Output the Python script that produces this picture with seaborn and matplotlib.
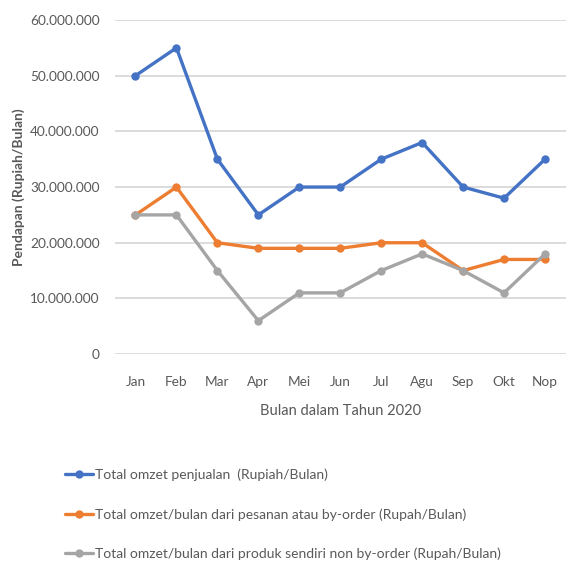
import matplotlib
matplotlib.use("Agg")
import matplotlib.pyplot as plt
import seaborn as sns
import pandas as pd
from matplotlib.ticker import FuncFormatter, MultipleLocator

months = ["Jan", "Feb", "Mar", "Apr", "Mei", "Jun", "Jul", "Agu", "Sep", "Okt", "Nop"]
total_omzet = [50e6, 55e6, 35e6, 25e6, 30e6, 30e6, 35e6, 38e6, 30e6, 28e6, 35e6]
by_order = [25e6, 30e6, 20e6, 19e6, 19e6, 19e6, 20e6, 20e6, 15e6, 17e6, 17e6]
non_by_order = [25e6, 25e6, 15e6, 6e6, 11e6, 11e6, 15e6, 18e6, 15e6, 11e6, 18e6]
series_names = [
    "Total omzet penjualan  (Rupiah/Bulan)",
    "Total omzet/bulan dari pesanan atau by-order (Rupah/Bulan)",
    "Total omzet/bulan dari produk sendiri non by-order (Rupah/Bulan)",
]
colors = ["#4472C4", "#ED7D31", "#A5A5A5"]

sns.set_theme(style="white")
plt.rcParams["font.family"] = ["Lato", "DejaVu Sans"]

df = pd.DataFrame({
    "Bulan": months * 3,
    "Nilai": total_omzet + by_order + non_by_order,
    "Seri": sum([[n] * len(months) for n in series_names], []),
})

fig = plt.figure(figsize=(5.68, 5.63), dpi=100)
ax = fig.add_axes([0.2025, 0.371, 0.7931, 0.5935])

sns.lineplot(data=df, x="Bulan", y="Nilai", hue="Seri", palette=colors,
             marker="o", markersize=6, markeredgewidth=0, linewidth=2.4,
             sort=False, ax=ax, legend=False)

ax.set_ylim(0, 60e6)
ax.set_xlim(-0.5, 10.5)
ax.yaxis.set_major_locator(MultipleLocator(10e6))
ax.yaxis.set_major_formatter(FuncFormatter(lambda v, p: "0" if v == 0 else f"{int(v):,}".replace(",", ".")))
ax.grid(axis="y", color="#D9D9D9", linewidth=1.3)
ax.set_axisbelow(True)
for s in ax.spines.values():
    s.set_visible(False)
ax.tick_params(axis="both", length=0, labelsize=9.8, colors="#595959")
ax.tick_params(axis="y", pad=11)
ax.tick_params(axis="x", pad=16)
ax.set_xlabel("Bulan dalam Tahun 2020", fontsize=10.5, color="#595959", labelpad=11)
ax.set_ylabel("Pendapan (Rupiah/Bulan)", fontsize=10, color="#595959", fontweight="bold", labelpad=4)

handles = [plt.Line2D([], [], color=c, marker="o", markersize=6, markeredgewidth=0, linewidth=2.4) for c in colors]
fig.legend(handles, series_names, loc="upper left", bbox_to_anchor=(0.105, 0.178),
           frameon=False, fontsize=10, labelcolor="#595959", handlelength=2.0,
           handletextpad=0.15, labelspacing=1.95, borderaxespad=0)

fig.savefig("out.png", dpi=100)
